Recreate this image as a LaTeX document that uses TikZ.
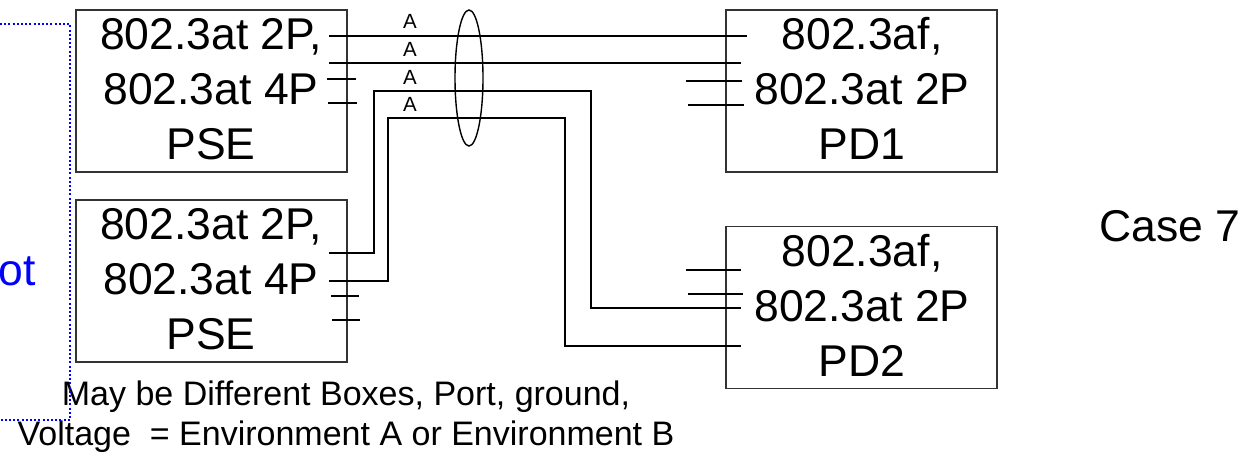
\documentclass[tikz,border=0pt]{standalone}
\usepackage{fontspec}
\setmainfont{Liberation Sans}
\definecolor{boxgray}{HTML}{333333}
\definecolor{dotblue}{HTML}{0000FF}
\tikzset{
  devbox/.style={draw=boxgray, line width=1.4pt, minimum width=271pt, minimum height=162pt, inner sep=0pt},
  bigtxt/.style={anchor=base, inner sep=0pt, font=\fontsize{44.5}{52}\selectfont},
  notetxt/.style={anchor=base, inner sep=0pt, font=\fontsize{34}{40}\selectfont},
  alabel/.style={anchor=base, inner sep=0pt, font=\fontsize{20.5}{22}\selectfont},
  wire/.style={line width=1.4pt, black},
  bluedot/.style={dotblue, line width=2.2pt, dash pattern=on 2pt off 2.2pt}
}
\begin{document}
\begin{tikzpicture}[x=1pt,y=-1pt]
\useasboundingbox (0,0) rectangle (1251,451);
% boxes
\node[devbox] (pse1) at (211.5,91) {};
\node[devbox] (pse2) at (211.5,281) {};
\node[devbox] (pd1) at (861.5,91) {};
\node[devbox] (pd2) at (861.5,307.5) {};
% box texts
\node[bigtxt] (t11) at (211,49) {802.3at 2P,};
\node[bigtxt] (t12) at (211,104) {802.3at 4P};
\node[bigtxt] (t13) at (211,159) {PSE};
\node[bigtxt] (t21) at (211,239) {802.3at 2P,};
\node[bigtxt] (t22) at (211,294) {802.3at 4P};
\node[bigtxt] (t23) at (211,349) {PSE};
\node[bigtxt] (t31) at (862,49) {802.3af,};
\node[bigtxt] (t32) at (862,104) {802.3at 2P};
\node[bigtxt] (t33) at (862,159) {PD1};
\node[bigtxt] (t41) at (862,266) {802.3af,};
\node[bigtxt] (t42) at (862,321) {802.3at 2P};
\node[bigtxt] (t43) at (862,376) {PD2};
\node[bigtxt] (case) at (1170,241) {Case 7};
\node[bigtxt, dotblue, anchor=base east] (ot) at (36,285) {ot};
% notes
\node[notetxt] (n1) at (346,405) {May be Different Boxes, Port, ground,};
\node[notetxt] (n2) at (346,445) {Voltage \ = Environment A or Environment B};
% A labels
\node[alabel] (a1) at (410,28) {A};
\node[alabel] (a2) at (410,56) {A};
\node[alabel] (a3) at (410,84) {A};
\node[alabel] (a4) at (410,111) {A};
% wire end coordinates
\coordinate (p1a) at (329,36);  \coordinate (d1a) at (747,36);
\coordinate (p1b) at (329,63);  \coordinate (d1b) at (741,63);
\coordinate (p2a) at (329,253); \coordinate (d2a) at (741,308);
\coordinate (p2b) at (329,281); \coordinate (d2b) at (741,346);
% wires
\draw[wire] (p1a) -- (d1a);
\draw[wire] (p1b) -- (d1b);
\draw[wire] (p2a) -- (374,253) -- (374,91) -- (591,91) |- (d2a);
\draw[wire] (p2b) -- (388,281) -- (388,118) -- (565,118) |- (d2b);
% stubs
\draw[wire] (327,79) -- (356,79);
\draw[wire] (328,103) -- (357,103);
\draw[wire] (331,296) -- (359,296);
\draw[wire] (332,320) -- (360,320);
\draw[wire] (686,81) -- (742,81);
\draw[wire] (688,105) -- (744,105);
\draw[wire] (686,270) -- (741,270);
\draw[wire] (688,294) -- (743,294);
% bundle ellipse
\draw[wire] (469,78) ellipse [x radius=14, y radius=68];
% blue dotted boundary
\coordinate (b0) at (0,24);
\coordinate (b3) at (0,420);
\draw[bluedot] (b0) -- (70,24) -- (70,420) -- (b3);
\end{tikzpicture}
\end{document}
